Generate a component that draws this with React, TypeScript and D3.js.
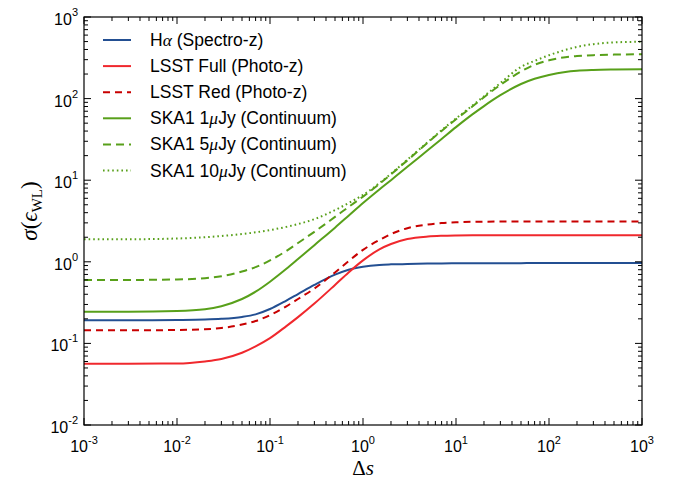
import React from "react";
import * as d3 from "d3";

const ds = [0.001, 0.003, 0.01, 0.02, 0.03, 0.05, 0.07, 0.1, 0.15, 0.2, 0.3, 0.5, 0.7, 1, 1.5, 2, 3, 5, 7, 10, 15, 20, 30, 50, 70, 100, 150, 200, 300, 500, 1000];
const halpha = [0.192, 0.192, 0.1935, 0.196, 0.2, 0.211, 0.227, 0.264, 0.335, 0.402, 0.52, 0.695, 0.8, 0.87, 0.915, 0.93, 0.943, 0.952, 0.956, 0.958, 0.96, 0.961, 0.962, 0.963, 0.964, 0.964, 0.965, 0.965, 0.966, 0.966, 0.966];
const lsstFull = [0.0564, 0.0564, 0.0567, 0.0601, 0.0644, 0.0767, 0.092, 0.116, 0.163, 0.21, 0.308, 0.52, 0.74, 1.04, 1.42, 1.65, 1.9, 2.04, 2.08, 2.1, 2.11, 2.11, 2.11, 2.11, 2.11, 2.11, 2.11, 2.11, 2.11, 2.11, 2.11];
const lsstRed = [0.1445, 0.1445, 0.146, 0.149, 0.1545, 0.17, 0.188, 0.222, 0.285, 0.35, 0.47, 0.74, 1.02, 1.4, 1.85, 2.19, 2.58, 2.86, 2.98, 3.05, 3.09, 3.1, 3.11, 3.11, 3.11, 3.11, 3.11, 3.11, 3.11, 3.11, 3.11];
const ska1 = [0.2446, 0.2447, 0.2494, 0.262, 0.286, 0.35, 0.43, 0.57, 0.82, 1.08, 1.6, 2.62, 3.67, 5.25, 7.7, 10.0, 14.6, 23.4, 32.0, 44.7, 64, 81, 110, 151, 175, 195, 212, 219, 224, 227, 229];
const ska5 = [0.598, 0.599, 0.607, 0.63, 0.665, 0.76, 0.86, 1.04, 1.36, 1.7, 2.33, 3.55, 4.7, 6.3, 9.0, 11.8, 17.5, 29.0, 40.2, 55.8, 80, 104, 147, 215, 260, 295, 322, 332, 341, 346, 349];
const ska10 = [1.888, 1.89, 1.93, 2.0, 2.07, 2.19, 2.3, 2.45, 2.68, 2.9, 3.33, 4.3, 5.25, 6.6, 9.2, 12.0, 17.8, 29.5, 41.0, 57.0, 82, 107, 155, 245, 290, 340, 395, 430, 465, 488, 497];

const xTickExps = [-3, -2, -1, 0, 1, 2, 3];
const yTickExps = [-2, -1, 0, 1, 2, 3];

type Series = { name: string; pre: string; sym: string; post: string; values: number[]; color: string; dash: string };
const series: Series[] = [
  { name: "ha", pre: "H", sym: "α", post: " (Spectro-z)", values: halpha, color: "#234f92", dash: "" },
  { name: "lf", pre: "LSST Full (Photo-z)", sym: "", post: "", values: lsstFull, color: "#f0282d", dash: "" },
  { name: "lr", pre: "LSST Red (Photo-z)", sym: "", post: "", values: lsstRed, color: "#c80000", dash: "7,5" },
  { name: "s1", pre: "SKA1 1", sym: "μ", post: "Jy (Continuum)", values: ska1, color: "#58a01a", dash: "" },
  { name: "s5", pre: "SKA1 5", sym: "μ", post: "Jy (Continuum)", values: ska5, color: "#58a01a", dash: "8,5" },
  { name: "s10", pre: "SKA1 10", sym: "μ", post: "Jy (Continuum)", values: ska10, color: "#58a01a", dash: "1.6,3" },
];

const L = 84, R = 642, T = 17, B = 425;
const SANS = "'Liberation Sans', Arial, sans-serif";
const SERIF = "'Liberation Serif', 'DejaVu Serif', serif";

export default function App() {
  const x = d3.scaleLog().domain([1e-3, 1e3]).range([L, R]);
  const y = d3.scaleLog().domain([1e-2, 1e3]).range([B, T]);
  const line = d3
    .line<number>()
    .x((_, i) => x(ds[i]))
    .y((v) => y(v))
    .curve(d3.curveMonotoneX);

  const xMinor: number[] = [];
  for (let e = -3; e < 3; e++) for (let m = 2; m <= 9; m++) xMinor.push(m * Math.pow(10, e));
  const yMinor: number[] = [];
  for (let e = -2; e < 3; e++) for (let m = 2; m <= 9; m++) yMinor.push(m * Math.pow(10, e));

  const MJ = 7, MN = 4;
  const tickStroke = { stroke: "#000", strokeWidth: 1 };

  return (
    <svg width={680} height={485} style={{ display: "block", position: "absolute", left: 0, top: 0 }}>
      <rect width={680} height={485} fill="#fff" />
      {series.map((s) => (
        <path
          key={s.name}
          d={line(s.values) || ""}
          fill="none"
          stroke={s.color}
          strokeWidth={2}
          strokeDasharray={s.dash || undefined}
        />
      ))}
      {xTickExps.map((e) => {
        const px = x(Math.pow(10, e));
        return (
          <g key={"xt" + e}>
            <line x1={px} x2={px} y1={B} y2={B - MJ} {...tickStroke} />
            <line x1={px} x2={px} y1={T} y2={T + MJ} {...tickStroke} />
            <text x={px} y={452} textAnchor="middle" fontFamily={SANS} fontSize={16} fill="#000">
              10<tspan dy={-8} fontSize={11}>{e}</tspan>
            </text>
          </g>
        );
      })}
      {xMinor.map((v, i) => {
        const px = x(v);
        return (
          <g key={"xm" + i}>
            <line x1={px} x2={px} y1={B} y2={B - MN} {...tickStroke} />
            <line x1={px} x2={px} y1={T} y2={T + MN} {...tickStroke} />
          </g>
        );
      })}
      {yTickExps.map((e) => {
        const py = y(Math.pow(10, e));
        return (
          <g key={"yt" + e}>
            <line x1={L} x2={L + MJ} y1={py} y2={py} {...tickStroke} />
            <line x1={R} x2={R - MJ} y1={py} y2={py} {...tickStroke} />
            <text x={78} y={py + 8} textAnchor="end" fontFamily={SANS} fontSize={16} fill="#000">
              10<tspan dy={-9} fontSize={11}>{e}</tspan>
            </text>
          </g>
        );
      })}
      {yMinor.map((v, i) => {
        const py = y(v);
        return (
          <g key={"ym" + i}>
            <line x1={L} x2={L + MN} y1={py} y2={py} {...tickStroke} />
            <line x1={R} x2={R - MN} y1={py} y2={py} {...tickStroke} />
          </g>
        );
      })}
      <rect x={L} y={T} width={R - L} height={B - T} fill="none" stroke="#000" strokeWidth={1.2} />
      <text x={(L + R) / 2} y={475} textAnchor="middle" fontFamily={SERIF} fontSize={21} fill="#000">
        Δ<tspan fontStyle="italic">s</tspan>
      </text>
      <text
        transform={`translate(37,${(T + B) / 2 - 10}) rotate(-90)`}
        textAnchor="middle"
        fontFamily={SERIF}
        fontSize={23}
        fill="#000"
      >
        <tspan fontStyle="italic">σ</tspan>(<tspan fontStyle="italic">ϵ</tspan>
        <tspan dy={5} fontSize={15}>WL</tspan>
        <tspan dy={-5}>)</tspan>
      </text>
      {series.map((s, i) => {
        const ly = 40 + i * 26.1;
        return (
          <g key={"lg" + s.name}>
            <line x1={103} x2={131} y1={ly} y2={ly} stroke={s.color} strokeWidth={2} strokeDasharray={s.dash || undefined} />
            <text x={150} y={ly + 6} fontFamily={SANS} fontSize={17.5} fill="#000">
              {s.pre}
              {s.sym && (
                <tspan fontFamily={SERIF} fontStyle="italic">
                  {s.sym}
                </tspan>
              )}
              {s.post}
            </text>
          </g>
        );
      })}
    </svg>
  );
}
